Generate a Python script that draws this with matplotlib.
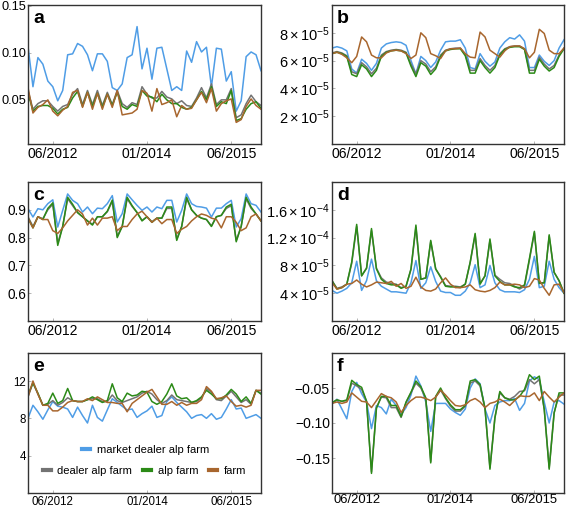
import numpy as np
import matplotlib.pyplot as plt
from matplotlib.lines import Line2D

plt.rcParams['font.family'] = ['Liberation Sans', 'DejaVu Sans']
plt.rcParams['mathtext.fontset'] = 'custom'
plt.rcParams['mathtext.rm'] = 'Liberation Sans'
plt.rcParams['mathtext.it'] = 'Liberation Sans:italic'

######### data (monthly, Jan 2012 ... Dec 2015) #########
tick_pos = [5, 24, 41]
tick_lab = ['06/2012', '01/2014', '06/2015']
names = ['market dealer alp farm', 'dealer alp farm', 'alp farm', 'farm']
colors = ['#4f9de6', '#737373', '#2b8a17', '#a8662e']

# panel a
a_market = [0.107, 0.064, 0.095, 0.088, 0.070, 0.064, 0.049, 0.060, 0.098, 0.099, 0.110, 0.107,
            0.098, 0.081, 0.099, 0.099, 0.091, 0.063, 0.060, 0.067, 0.095, 0.098, 0.128, 0.083,
            0.105, 0.072, 0.105, 0.106, 0.083, 0.060, 0.064, 0.060, 0.102, 0.090, 0.112, 0.101,
            0.106, 0.064, 0.105, 0.104, 0.070, 0.080, 0.038, 0.049, 0.096, 0.101, 0.098, 0.081]
a_dealer = [0.060, 0.040, 0.046, 0.049, 0.049, 0.043, 0.038, 0.043, 0.045, 0.056, 0.062, 0.045,
            0.060, 0.045, 0.060, 0.044, 0.058, 0.045, 0.060, 0.046, 0.042, 0.047, 0.045, 0.064,
            0.056, 0.052, 0.052, 0.059, 0.053, 0.051, 0.046, 0.049, 0.044, 0.043, 0.052, 0.063,
            0.052, 0.067, 0.045, 0.050, 0.050, 0.062, 0.031, 0.034, 0.046, 0.055, 0.048, 0.044]
a_alp = [0.058, 0.038, 0.043, 0.044, 0.044, 0.041, 0.035, 0.040, 0.042, 0.052, 0.059, 0.043,
         0.058, 0.043, 0.057, 0.042, 0.056, 0.044, 0.058, 0.043, 0.040, 0.045, 0.043, 0.060,
         0.054, 0.053, 0.048, 0.056, 0.050, 0.046, 0.046, 0.042, 0.040, 0.042, 0.050, 0.059,
         0.050, 0.064, 0.043, 0.048, 0.046, 0.060, 0.028, 0.030, 0.040, 0.046, 0.048, 0.041]
a_farm = [0.063, 0.036, 0.042, 0.045, 0.050, 0.038, 0.033, 0.039, 0.043, 0.058, 0.060, 0.042,
          0.058, 0.040, 0.057, 0.040, 0.056, 0.042, 0.060, 0.034, 0.035, 0.036, 0.040, 0.060,
          0.057, 0.038, 0.062, 0.045, 0.047, 0.050, 0.032, 0.044, 0.040, 0.041, 0.050, 0.058,
          0.047, 0.062, 0.038, 0.046, 0.049, 0.051, 0.026, 0.029, 0.043, 0.051, 0.044, 0.040]

# panel b (x 1e-5)
b_market = [6.9, 7.0, 6.9, 6.7, 5.4, 5.1, 6.1, 5.8, 5.3, 5.8, 6.9, 7.2,
            7.3, 7.35, 7.3, 7.1, 6.0, 5.05, 6.3, 6.0, 5.5, 5.9, 6.75, 7.35,
            7.4, 7.4, 7.5, 6.9, 5.5, 5.4, 6.5, 5.95, 5.6, 5.9, 6.9, 7.35,
            7.65, 7.55, 7.85, 7.4, 5.5, 5.5, 6.4, 5.95, 5.65, 6.0, 6.9, 7.5]
b_dealer = [6.55, 6.65, 6.55, 6.35, 5.2, 5.05, 5.85, 5.55, 5.05, 5.45, 6.4, 6.65,
            6.75, 6.8, 6.75, 6.6, 5.75, 5.05, 6.0, 5.75, 5.2, 5.55, 6.4, 6.75,
            6.85, 6.9, 6.9, 6.45, 5.3, 5.3, 6.15, 5.65, 5.3, 5.65, 6.5, 6.85,
            7.0, 7.05, 7.05, 6.85, 5.3, 5.3, 6.25, 5.75, 5.4, 5.65, 6.4, 6.9]
b_alp = [6.5, 6.6, 6.5, 6.3, 5.0, 4.85, 5.7, 5.4, 4.85, 5.3, 6.3, 6.6,
         6.7, 6.75, 6.7, 6.55, 5.6, 4.85, 5.85, 5.6, 5.0, 5.4, 6.3, 6.7,
         6.8, 6.85, 6.85, 6.35, 5.1, 5.1, 6.0, 5.5, 5.1, 5.5, 6.4, 6.8,
         6.95, 7.0, 7.0, 6.8, 5.1, 5.1, 6.1, 5.6, 5.25, 5.5, 6.3, 6.85]
b_farm = [6.5, 6.6, 6.45, 6.2, 5.85, 6.3, 7.7, 7.35, 6.4, 6.2, 6.2, 6.55,
          6.7, 6.75, 6.7, 6.5, 6.15, 6.4, 8.0, 7.65, 6.5, 6.35, 6.15, 6.7,
          6.85, 6.85, 6.9, 6.5, 6.25, 6.2, 8.05, 7.7, 6.75, 6.5, 6.25, 6.7,
          7.0, 7.05, 7.05, 6.85, 6.2, 6.6, 8.25, 7.95, 6.75, 6.5, 6.5, 6.9]

# panel c
c_market = [0.904, 0.874, 0.904, 0.900, 0.922, 0.936, 0.838, 0.898, 0.957, 0.934, 0.922, 0.892,
            0.910, 0.886, 0.906, 0.904, 0.922, 0.951, 0.856, 0.886, 0.957, 0.936, 0.916, 0.898,
            0.910, 0.892, 0.910, 0.904, 0.934, 0.934, 0.856, 0.898, 0.957, 0.922, 0.912, 0.910,
            0.906, 0.874, 0.906, 0.906, 0.922, 0.934, 0.838, 0.868, 0.957, 0.922, 0.916, 0.892]
c_dealer = [0.875, 0.840, 0.875, 0.868, 0.900, 0.920, 0.780, 0.840, 0.940, 0.915, 0.890, 0.875,
            0.860, 0.848, 0.875, 0.875, 0.893, 0.930, 0.805, 0.840, 0.940, 0.912, 0.890, 0.862,
            0.875, 0.857, 0.870, 0.870, 0.905, 0.905, 0.795, 0.840, 0.940, 0.900, 0.880, 0.870,
            0.865, 0.842, 0.875, 0.880, 0.905, 0.915, 0.790, 0.840, 0.940, 0.905, 0.885, 0.860]
c_alp = [0.870, 0.835, 0.875, 0.865, 0.905, 0.925, 0.772, 0.840, 0.945, 0.920, 0.890, 0.875,
         0.860, 0.845, 0.875, 0.875, 0.895, 0.935, 0.800, 0.840, 0.945, 0.915, 0.890, 0.860,
         0.875, 0.855, 0.870, 0.870, 0.910, 0.910, 0.790, 0.840, 0.945, 0.900, 0.880, 0.870,
         0.865, 0.840, 0.875, 0.880, 0.910, 0.920, 0.785, 0.840, 0.945, 0.910, 0.885, 0.860]
c_farm = [0.870, 0.835, 0.875, 0.865, 0.865, 0.825, 0.815, 0.835, 0.860, 0.880, 0.900, 0.885,
          0.845, 0.870, 0.845, 0.870, 0.870, 0.875, 0.825, 0.840, 0.840, 0.865, 0.885, 0.895,
          0.875, 0.855, 0.870, 0.850, 0.865, 0.865, 0.815, 0.830, 0.840, 0.860, 0.875, 0.885,
          0.880, 0.870, 0.865, 0.835, 0.875, 0.875, 0.855, 0.825, 0.835, 0.875, 0.885, 0.860]

# panel d (x 1e-5)
d_market = [4.4, 4.0, 4.3, 4.7, 5.5, 8.6, 4.4, 5.8, 8.9, 5.8, 5.0, 4.6,
            4.2, 4.2, 4.1, 4.0, 5.5, 8.7, 4.7, 5.5, 7.8, 5.7, 4.3, 4.1,
            4.1, 3.7, 3.7, 4.3, 5.5, 8.1, 4.8, 5.2, 8.0, 5.5, 4.5, 4.2,
            4.2, 4.2, 4.1, 4.5, 6.0, 9.3, 4.8, 5.0, 8.6, 6.0, 4.8, 4.0]
d_dealer = [5.8, 4.7, 4.9, 5.3, 8.3, 13.6, 6.5, 7.6, 13.0, 7.6, 6.2, 5.6,
            5.4, 5.3, 4.8, 5.0, 7.4, 13.5, 6.0, 6.2, 11.4, 7.5, 6.4, 5.1,
            5.0, 5.0, 4.9, 5.3, 8.4, 12.4, 5.4, 6.5, 11.6, 6.6, 6.0, 5.5,
            5.4, 5.0, 4.6, 5.0, 8.8, 12.7, 5.5, 5.5, 12.2, 7.0, 5.8, 4.0]
d_alp = [5.8, 4.6, 4.8, 5.3, 8.5, 13.9, 6.5, 7.6, 13.3, 7.5, 6.0, 5.4,
         5.2, 5.2, 4.7, 5.0, 7.5, 13.8, 6.0, 6.2, 11.6, 7.5, 6.3, 5.0,
         4.9, 4.9, 4.8, 5.3, 8.5, 12.6, 5.3, 6.5, 11.8, 6.5, 5.7, 5.2,
         5.2, 4.9, 4.8, 5.2, 9.0, 12.9, 5.4, 5.5, 12.4, 7.0, 5.8, 4.0]
d_farm = [5.5, 4.6, 4.8, 5.3, 5.4, 5.9, 5.3, 4.9, 5.2, 5.6, 5.5, 5.4,
          5.7, 5.0, 5.4, 4.7, 5.0, 6.3, 4.9, 4.4, 4.3, 4.6, 5.5, 6.2,
          5.3, 4.8, 4.8, 4.9, 5.2, 4.5, 4.3, 4.2, 4.4, 4.8, 5.6, 5.2,
          5.2, 5.3, 5.2, 4.8, 5.0, 6.1, 5.9, 4.7, 3.7, 5.2, 5.3, 4.1]

# panel e
e_market = [8.0, 9.4, 8.7, 7.9, 8.9, 9.8, 9.3, 9.2, 9.0, 8.1, 9.2, 8.3,
            7.5, 9.4, 8.1, 7.7, 8.9, 10.1, 9.7, 9.3, 8.9, 9.0, 8.1, 8.5,
            8.8, 9.3, 8.1, 8.3, 9.8, 10.3, 9.7, 9.2, 8.7, 8.0, 8.3, 8.4,
            8.0, 8.5, 7.9, 8.1, 9.0, 10.0, 9.0, 9.1, 8.0, 8.2, 8.4, 8.0]
e_dealer = [10.3, 11.8, 10.6, 9.4, 9.5, 9.9, 9.4, 9.7, 10.2, 9.9, 9.8, 9.8,
            10.0, 10.1, 10.1, 9.8, 9.8, 10.5, 9.9, 9.7, 9.9, 10.1, 10.3, 10.7,
            10.9, 10.6, 10.0, 9.6, 9.9, 10.5, 10.0, 9.9, 9.8, 9.7, 9.8, 10.2,
            11.2, 10.8, 10.0, 9.9, 10.4, 10.9, 10.3, 9.7, 10.0, 9.5, 11.0, 10.7]
e_alp = [10.5, 11.8, 10.7, 9.4, 9.6, 10.7, 9.6, 9.9, 11.2, 9.9, 9.8, 9.8,
         10.0, 10.3, 10.0, 9.7, 9.9, 11.7, 10.2, 9.8, 10.7, 10.4, 10.5, 10.9,
         10.8, 9.8, 9.5, 9.8, 10.6, 11.7, 10.4, 10.1, 10.2, 9.7, 9.9, 10.3,
         11.0, 10.6, 10.1, 10.1, 10.5, 11.1, 10.6, 9.8, 10.3, 9.6, 11.0, 10.6]
e_farm = [10.3, 12.0, 10.6, 9.4, 9.4, 8.8, 8.8, 9.2, 9.7, 9.9, 9.8, 9.8,
          10.1, 9.9, 10.3, 10.0, 9.7, 9.7, 9.6, 9.6, 8.7, 9.6, 10.0, 10.4,
          10.8, 11.1, 10.3, 9.5, 9.5, 9.8, 9.4, 9.7, 9.4, 9.6, 9.6, 10.0,
          11.4, 10.9, 10.1, 10.2, 10.4, 9.8, 9.3, 9.4, 9.2, 9.4, 11.0, 11.0]

# panel f
f_market = [-0.073, -0.066, -0.080, -0.094, -0.055, -0.042, -0.058, -0.070, -0.108, -0.075, -0.078, -0.087,
            -0.066, -0.075, -0.088, -0.078, -0.060, -0.033, -0.047, -0.070, -0.112, -0.072, -0.072, -0.072,
            -0.080, -0.085, -0.089, -0.080, -0.050, -0.037, -0.044, -0.080, -0.100, -0.075, -0.070, -0.068,
            -0.068, -0.065, -0.082, -0.072, -0.040, -0.034, -0.038, -0.070, -0.100, -0.070, -0.068, -0.073]
f_dealer = [-0.071, -0.067, -0.069, -0.068, -0.043, -0.047, -0.052, -0.069, -0.170, -0.078, -0.063, -0.064,
            -0.078, -0.078, -0.092, -0.071, -0.057, -0.043, -0.050, -0.065, -0.155, -0.063, -0.053, -0.065,
            -0.076, -0.083, -0.083, -0.076, -0.043, -0.040, -0.047, -0.080, -0.164, -0.092, -0.057, -0.064,
            -0.066, -0.062, -0.055, -0.054, -0.038, -0.044, -0.038, -0.080, -0.164, -0.085, -0.060, -0.060]
f_alp = [-0.071, -0.067, -0.069, -0.067, -0.039, -0.045, -0.049, -0.069, -0.172, -0.079, -0.062, -0.062,
         -0.075, -0.075, -0.091, -0.070, -0.056, -0.040, -0.048, -0.064, -0.157, -0.062, -0.050, -0.064,
         -0.074, -0.081, -0.081, -0.075, -0.040, -0.038, -0.045, -0.079, -0.166, -0.093, -0.055, -0.064,
         -0.067, -0.067, -0.062, -0.052, -0.031, -0.038, -0.033, -0.081, -0.166, -0.086, -0.057, -0.057]
f_farm = [-0.072, -0.070, -0.072, -0.070, -0.057, -0.063, -0.069, -0.070, -0.078, -0.068, -0.058, -0.062,
          -0.064, -0.070, -0.085, -0.075, -0.068, -0.063, -0.063, -0.065, -0.068, -0.063, -0.053, -0.060,
          -0.068, -0.075, -0.076, -0.074, -0.068, -0.065, -0.070, -0.078, -0.072, -0.070, -0.066, -0.070,
          -0.075, -0.068, -0.061, -0.062, -0.062, -0.057, -0.068, -0.055, -0.063, -0.070, -0.063, -0.057]

panels = {
    'a': ([a_market, a_dealer, a_alp, a_farm], 1, (0.003, 0.151), [0.05, 0.10, 0.15], ['0.05', '0.10', '0.15']),
    'b': ([b_market, b_dealer, b_alp, b_farm], 1e-5, (0, 1.0e-4), [2e-5, 4e-5, 6e-5, 8e-5],
          [r'$2\times10^{-5}$', r'$4\times10^{-5}$', r'$6\times10^{-5}$', r'$8\times10^{-5}$']),
    'c': ([c_market, c_dealer, c_alp, c_farm], 1, (0.5, 1.0), [0.6, 0.7, 0.8, 0.9], ['0.6', '0.7', '0.8', '0.9']),
    'd': ([d_market, d_dealer, d_alp, d_farm], 1e-5, (0, 2.0e-4), [4e-5, 8e-5, 1.2e-4, 1.6e-4],
          [r'$4\times10^{-5}$', r'$8\times10^{-5}$', r'$1.2\times10^{-4}$', r'$1.6\times10^{-4}$']),
    'e': ([e_market, e_dealer, e_alp, e_farm], 1, (0, 15), [4, 8, 12], ['4', '8', '12']),
    'f': ([f_market, f_dealer, f_alp, f_farm], 1, (-0.2, 0.0), [-0.15, -0.10, -0.05],
          ['\u22120.15', '\u22120.10', '\u22120.05']),
}

# axes boxes in pixels: left, top, right, bottom
W, H = 567, 508
boxes = {'a': (28, 5, 261, 144), 'b': (332, 5, 564, 144),
         'c': (28, 182, 261, 321), 'd': (332, 182, 564, 321),
         'e': (28, 353, 261, 493), 'f': (332, 353, 564, 493)}
yfont = {'a': 9.2, 'b': 10.5, 'c': 9.8, 'd': 10.5, 'e': 8.3, 'f': 10}
xfont = {'a': 10, 'b': 10, 'c': 10, 'd': 10, 'e': 8.3, 'f': 9.4}

fig = plt.figure(figsize=(W / 100, H / 100), dpi=100)
axes = {}
for key, (series, scale, ylim, yt, ytl) in panels.items():
    l, t, r, b = boxes[key]
    ax = fig.add_axes([l / W, 1 - b / H, (r - l) / W, (b - t) / H])
    axes[key] = ax
    for vals, c, nm in zip(series, colors, names):
        y = np.array(vals) * scale
        ax.plot(np.arange(len(y)), y, color=c, lw=1.1, label=nm)
    ax.set_xlim(0, 47)
    ax.set_ylim(*ylim)
    ax.set_yticks(yt)
    ax.set_yticklabels(ytl, fontsize=yfont[key])
    ax.set_xticks(tick_pos)
    ax.set_xticklabels(tick_lab, fontsize=xfont[key])
    ax.tick_params(direction='in', length=2.5, width=0.6, color='#aaaaaa', pad=2)
    ax.tick_params(axis='y', pad=1.5)
    if key == 'f':
        ax.tick_params(axis='x', pad=1)
    for s in ax.spines.values():
        s.set_color('#333333')
        s.set_linewidth(1.0)
    ax.text(0.022, 0.965, key, transform=ax.transAxes, fontsize=14, fontweight='bold',
            va='top', ha='left')

# legend in panel e, two rows
ax = axes['e']
kw = dict(frameon=False, fontsize=8, handlelength=0.7, handletextpad=0.6,
          columnspacing=1.0, borderpad=0)
hl = [Line2D([], [], color=c, lw=3) for c in colors]
leg1 = ax.legend([hl[0]], [names[0]], loc='center', bbox_to_anchor=(0.505, 0.31), **kw)
ax.add_artist(leg1)
ax.legend(hl[1:], names[1:], loc='center', bbox_to_anchor=(0.5, 0.155), ncol=3, **kw)

fig.savefig('out.png', dpi=100)
